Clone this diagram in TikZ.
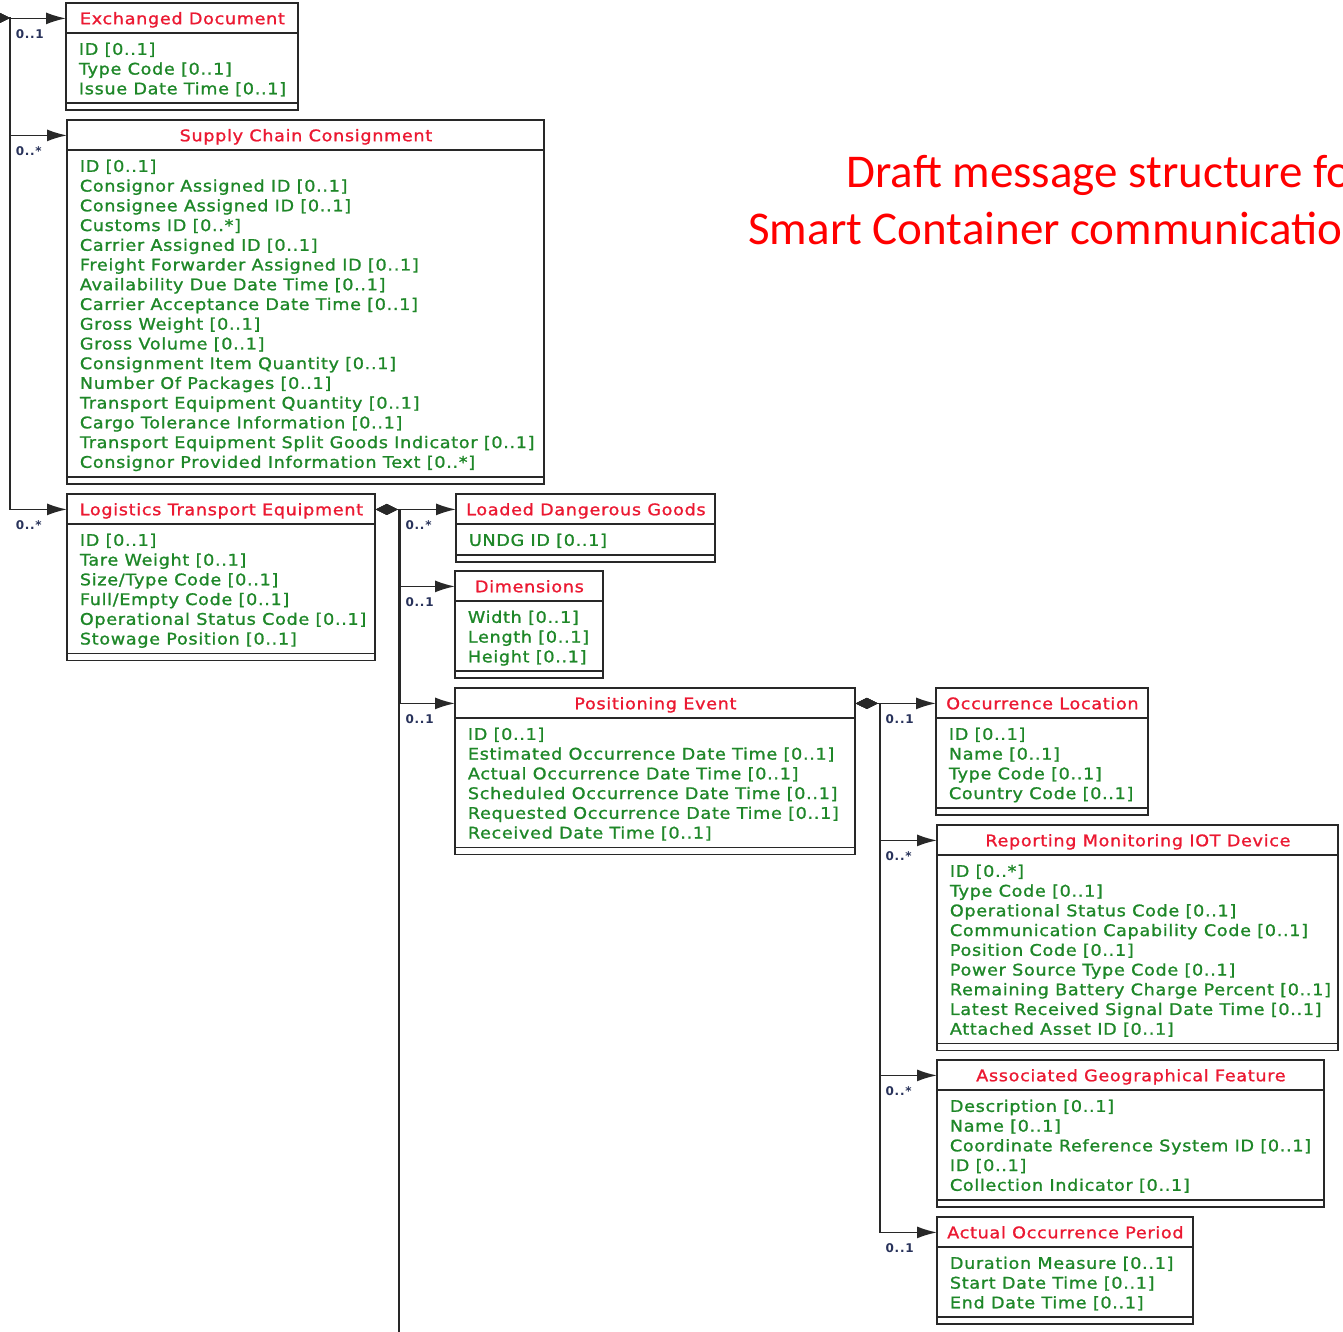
\documentclass[tikz,border=0pt]{standalone}
\usepackage{fontspec}
\usetikzlibrary{arrows.meta}

\newfontfamily\umlfont[LetterSpace=4.3, FakeStretch=1.1, FakeBold=1.2]{DejaVu Sans}
\newfontfamily\multfont[LetterSpace=6]{DejaVu Sans}
\newfontfamily\headfont{Carlito}

\definecolor{titlered}{RGB}{235,25,50}
\definecolor{attrgreen}{RGB}{30,135,40}
\definecolor{headred}{RGB}{255,0,0}
\definecolor{linegray}{RGB}{40,40,40}
\definecolor{multblue}{RGB}{40,50,90}

\tikzset{
  boxline/.style={draw=linegray, line width=0.85pt},
  classtitle/.style={inner sep=0pt, anchor=north west, text=titlered,
    font=\umlfont\fontsize{8pt}{9.9pt}\selectfont,
    text height=5.85pt, text depth=0pt, minimum height=15pt},
  attr/.style={inner sep=0pt, anchor=west, text=attrgreen,
    font=\umlfont\fontsize{8pt}{9.9pt}\selectfont,
    text height=5.85pt, text depth=0pt},
  mult/.style={inner sep=0pt, anchor=north west, text=multblue,
    font=\multfont\bfseries\fontsize{6pt}{7pt}\selectfont,
    text height=4.35pt, text depth=0pt, xshift=2.5pt, yshift=-5.5pt},
  assoc/.style={boxline, -{Latex[length=10pt,width=6pt]}},
  comp/.style={boxline, {Diamond[length=11pt,width=5.5pt]}-{Latex[length=10pt,width=6pt]}},
  head/.style={inner sep=0pt, text=headred, font=\headfont\fontsize{23.5pt}{28pt}\selectfont},
}

% UML class: name, x, y, width, title, number of attributes, attribute list
\newcommand{\umlclass}[7]{%
  \pgfmathsetmacro{\cy}{#3+30}%
  \pgfmathsetmacro{\cz}{#3+41+#6*19.73}%
  \pgfmathsetmacro{\cb}{\cz+7}%
  \pgfmathsetmacro{\cr}{#2+#4}%
  \draw[boxline] (#2,#3) rectangle (\cr,\cb);
  \draw[boxline] (#2,\cy) -- (\cr,\cy) (#2,\cz) -- (\cr,\cz);
  \node[classtitle, minimum width={#4*0.5pt}] (#1) at (#2,#3) {#5};
  \foreach \a [count=\i] in {#7} {%
    \node[attr] (#1-a\i) at ({#2+12.5},{#3+46+(\i-1)*19.73}) {\a};}%
}

\begin{document}
\begin{tikzpicture}[x=0.5pt, y=-0.5pt]
\useasboundingbox (0,0) rectangle (1343,1332);
\clip (0,0) rectangle (1343,1332);

% heading
\node[head, anchor=base west] (head1) at (846,188) {Draft message structure for};
\node[head, anchor=base west] (head2) at (748,244.5) {Smart Container communication};

% classes
\umlclass{ed}{66}{3}{232}{Exchanged Document}{3}{ID [0..1], Type Code [0..1], Issue Date Time [0..1]}
\umlclass{scc}{67}{120}{477}{Supply Chain Consignment}{16}{ID [0..1], Consignor Assigned ID [0..1], Consignee Assigned ID [0..1], Customs ID [0..*], Carrier Assigned ID [0..1], Freight Forwarder Assigned ID [0..1], Availability Due Date Time [0..1], Carrier Acceptance Date Time [0..1], Gross Weight [0..1], Gross Volume [0..1], Consignment Item Quantity [0..1], Number Of Packages [0..1], Transport Equipment Quantity [0..1], Cargo Tolerance Information [0..1], Transport Equipment Split Goods Indicator [0..1], Consignor Provided Information Text [0..*]}
\umlclass{lte}{67}{494}{308}{Logistics Transport Equipment}{6}{ID [0..1], Tare Weight [0..1], Size/Type Code [0..1], Full/Empty Code [0..1], Operational Status Code [0..1], Stowage Position [0..1]}
\umlclass{ldg}{456}{494}{259}{Loaded Dangerous Goods}{1}{UNDG ID [0..1]}
\umlclass{dim}{455}{571}{148}{Dimensions}{3}{Width [0..1], Length [0..1], Height [0..1]}
\umlclass{pe}{455}{688}{400}{Positioning Event}{6}{ID [0..1], Estimated Occurrence Date Time [0..1], Actual Occurrence Date Time [0..1], Scheduled Occurrence Date Time [0..1], Requested Occurrence Date Time [0..1], Received Date Time [0..1]}
\umlclass{ol}{936}{688}{212}{Occurrence Location}{4}{ID [0..1], Name [0..1], Type Code [0..1], Country Code [0..1]}
\umlclass{rmd}{937}{825}{401}{Reporting Monitoring IOT Device}{9}{ID [0..*], Type Code [0..1], Operational Status Code [0..1], Communication Capability Code [0..1], Position Code [0..1], Power Source Type Code [0..1], Remaining Battery Charge Percent [0..1], Latest Received Signal Date Time [0..1], Attached Asset ID [0..1]}
\umlclass{agf}{937}{1060}{387}{Associated Geographical Feature}{5}{Description [0..1], Name [0..1], Coordinate Reference System ID [0..1], ID [0..1], Collection Indicator [0..1]}
\umlclass{aop}{937}{1217}{256}{Actual Occurrence Period}{3}{Duration Measure [0..1], Start Date Time [0..1], End Date Time [0..1]}

% associations of the message root
\coordinate (root) at (-12,18);
\draw[comp] (root) -- ++(22,0) |- (ed.west)  node[mult,pos=0.5] (m-ed) {0..1};
\draw[comp] (root) -- ++(22,0) |- (scc.west) node[mult,pos=0.5] (m-scc) {0..*};
\draw[comp] (root) -- ++(22,0) |- (lte.west) node[mult,pos=0.5] (m-lte) {0..*};

% associations of the transport equipment
\coordinate (lte-more) at (399,1345);
\draw[boxline] (lte.east) -| (lte-more);
\draw[comp] (lte.east) -- ++(24,0) |- (ldg.west) node[mult,pos=0.5] (m-ldg) {0..*};
\draw[comp] (lte.east) -- ++(24,0) |- (dim.west) node[mult,pos=0.5] (m-dim) {0..1};
\draw[comp] (lte.east) -- ++(24,0) |- (pe.west)  node[mult,pos=0.5] (m-pe) {0..1};

% associations of the positioning event
\draw[comp] (pe.east) -- ++(24,0) |- (ol.west)  node[mult,pos=0.5] (m-ol) {0..1};
\draw[comp] (pe.east) -- ++(24,0) |- (rmd.west) node[mult,pos=0.5] (m-rmd) {0..*};
\draw[comp] (pe.east) -- ++(24,0) |- (agf.west) node[mult,pos=0.5] (m-agf) {0..*};
\draw[comp] (pe.east) -- ++(24,0) |- (aop.west) node[mult,pos=0.5] (m-aop) {0..1};
\end{tikzpicture}
\end{document}
